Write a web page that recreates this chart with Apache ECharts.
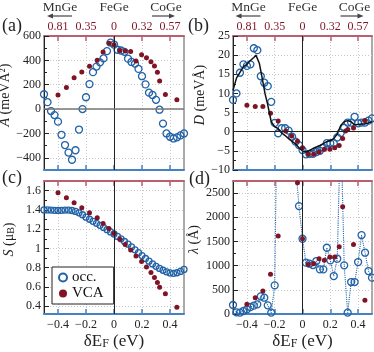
<!DOCTYPE html>
<html>
<head>
<meta charset="utf-8">
<title>FeGe</title>
<script src="https://cdn.jsdelivr.net/npm/echarts@6.0.0/dist/echarts.min.js"></script>
<style>
html, body { margin: 0; padding: 0; background: #fff; }
#chart { width: 374px; height: 352px; }
</style>
</head>
<body>
<div id="chart"></div>
<script>
// occ. points (open circles), energy shift grid
const occX = [-0.5, -0.475, -0.45, -0.425, -0.4, -0.375, -0.35, -0.325, -0.3, -0.275, -0.25, -0.225, -0.2, -0.175,
  -0.15, -0.125, -0.1, -0.075, -0.05, -0.025, 0, 0.025, 0.05, 0.075, 0.1, 0.125, 0.15, 0.175, 0.2, 0.225, 0.25,
  0.275, 0.3, 0.325, 0.35, 0.375, 0.4, 0.425, 0.45, 0.475, 0.5]
const occA = [122, 57, -16, -49, -103, -211, -295, -357, -416, -338, -168, 0, 97, 205, 303, 349, 384, 416, 476, 546,
  530, 487, 481, 470, 414, 387, 373, 330, 270, 203, 135, 116, 76, -5, -119, -200, -227, -241, -232, -216, -200]
const occD = [8.3, 10.0, 15.4, 17.6, 17.2, 17.6, 21.8, 21.3, 14.5, 12.8, 11.9, 7.8, 2.3, -0.4, 0.9, 0.9, 0.3, -1.3,
  -2.6, -3.5, -4.8, -5.9, -5.8, -5.8, -5.3, -5.0, -4.2, -3.0, -3.0, -3.0, -1.5, -0.3, 1.0, 2.4, 2.4, 3.9, 2.2, 2.4,
  2.4, 2.9, 3.5]
const occS = [1.40, 1.40, 1.398, 1.396, 1.395, 1.396, 1.398, 1.398, 1.394, 1.384, 1.37, 1.35, 1.325, 1.303, 1.282,
  1.261, 1.24, 1.218, 1.195, 1.172, 1.15, 1.125, 1.1, 1.072, 1.045, 1.016, 0.986, 0.956, 0.926, 0.896, 0.868, 0.84,
  0.815, 0.793, 0.774, 0.758, 0.746, 0.742, 0.748, 0.762, 0.782]
const occL = [186, 34, 28, 62, 96, 145, 172, 200, 365, 337, 179, 28, 592, 6000, 9000, 11000, 9000, 6000, 3050, 2231,
  1556, 1061, 1040, 1012, 1095, 923, 923, 1370, 1109, 785, 1143, 4000, 1006, 28, 661, 661, 1074, 1632, 1267, 888, 751]

// VCA points (filled dots)
const vcaX = [-0.4, -0.34, -0.285, -0.23, -0.175, -0.12, -0.078, -0.036, 0, 0.042, 0.08, 0.119, 0.157, 0.197, 0.232,
  0.264, 0.289, 0.31, 0.326, 0.367, 0.449]
const vcaA = [116, 178, 257, 305, 351, 400, 468, 541, 529, 481, 476, 473, 395, 446, 422, 389, 354, 303, 230, 119, 76]
const vcaD = [6.9, 6.6, 6.6, 4.8, 2.8, 0.2, -1.1, -2.5, -4.2, -5.9, -5.9, -5.3, -4.6, -4.6, -4.2, -3.6, -1.8, 0.2,
  0.6, 1.0, 2.9]
const vcaS = [1.579, 1.527, 1.475, 1.423, 1.37, 1.318, 1.259, 1.207, 1.155, 1.096, 1.04, 0.984, 0.922, 0.866, 0.807,
  0.751, 0.699, 0.647, 0.598, 0.529, 0.39]
const vcaL = [200, 337, 475, 820, 1612, 4500, 3500, 2713, 1556, 1026, 1040, 1143, 1109, 1178, 1178, 1391, 2218, 3800,
  3000, 1439, 282]

// black curve in (b)
const curveX = [-0.5, -0.475, -0.45, -0.425, -0.4, -0.375, -0.35, -0.335, -0.31, -0.29, -0.27, -0.25, -0.225, -0.2,
  -0.175, -0.15, -0.125, -0.1, -0.075, -0.05, -0.025, 0, 0.025, 0.05, 0.075, 0.1, 0.125, 0.15, 0.175, 0.2, 0.225,
  0.25, 0.275, 0.3, 0.325, 0.35, 0.375, 0.4, 0.425, 0.45, 0.475, 0.5]
const curveD = [10.8, 14, 15.5, 17, 17.6, 18.6, 19.4, 20.0, 17.8, 14, 10, 7, 2.6, 1.3, 0.8, -0.3, -1.0, -1.8, -2.5,
  -3.2, -4.2, -5.0, -5.3, -4.9, -4.4, -4.0, -3.6, -3.1, -2.6, -2.3, -1.8, -0.6, 1.6, 2.6, 2.9, 2.6, 1.8, 1.9, 2.0,
  2.1, 2.3, 2.6]

// ticks and labels
const xTicks = [-0.4, -0.2, 0, 0.2, 0.4]
const topLabels = ['0.81', '0.35', '0', '0.32', '0.57']
const compNames = ['MnGe', 'FeGe', 'CoGe']
const panelNames = ['(a)', '(b)', '(c)', '(d)']
const aTicks = [-400, -200, 0, 200, 400, 600]
const aMinor = [-300, -100, 100, 300, 500]
const dTicks = [-10, -5, 0, 5, 10, 15, 20, 25]
const dMinor = [-7.5, -2.5, 2.5, 7.5, 12.5, 17.5, 22.5]
const sTicks = [0.4, 0.6, 0.8, 1, 1.2, 1.4, 1.6]
const sMinor = [0.5, 0.7, 0.9, 1.1, 1.3, 1.5]
const lTicks = [0, 500, 1000, 1500, 2000, 2500]
const lMinor = [250, 750, 1250, 1750, 2250]

const fontFamily = '"Liberation Serif", "DejaVu Serif", serif'
const blue = '#2263a8'
const red = '#7f1426'
const topRed = '#b8606f'
const axisBlue = '#4682c0'
const ink = '#222'
const gridLine = { color: '#c9c9c9', type: [1, 2], width: 1 }

const minus = v => String(v).replace('-', '\u2212')
const pair = (xs, ys) => xs.map((x, i) => [x, ys[i]])

const rich = {
  i: { fontStyle: 'italic', fontFamily, fontSize: 14, color: ink },
  sub: { fontFamily, fontSize: 10, color: ink, verticalAlign: 'bottom', lineHeight: 9 },
  bsub: { fontFamily, fontSize: 12, color: ink, verticalAlign: 'bottom', lineHeight: 10 }
}

let myChart = echarts.init(document.getElementById('chart'))

const xBottom = (g, labels) => ({
  type: 'value', gridIndex: g, position: 'bottom', min: -0.5, max: 0.5, splitNumber: 5,
  axisLine: { show: true, onZero: false, lineStyle: { color: axisBlue, width: 2 } },
  axisTick: { show: true, inside: true, length: 5, customValues: xTicks, lineStyle: { color: axisBlue, width: 1.5 } },
  axisLabel: { show: labels, customValues: xTicks, formatter: minus, margin: 5, color: ink, fontFamily, fontSize: 12 },
  splitLine: { show: true, lineStyle: gridLine },
  name: labels ? 'δE{bsub|F} (eV)' : '',
  nameLocation: 'middle', nameGap: 19,
  nameTextStyle: { fontFamily, fontSize: 17, color: ink, rich }
})

const xTop = (g, labels) => ({
  type: 'value', gridIndex: g, position: 'top', min: -0.5, max: 0.5, splitNumber: 5,
  axisLine: { show: true, onZero: false, lineStyle: { color: topRed, width: 2 } },
  axisTick: { show: true, inside: true, length: 5, customValues: xTicks, lineStyle: { color: topRed, width: 1.5 } },
  axisLabel: {
    show: labels, customValues: xTicks, margin: 3, color: red, fontFamily, fontSize: 12,
    formatter: v => topLabels[xTicks.findIndex(t => Math.abs(t - v) < 1e-6)]
  },
  splitLine: { show: false }
})

const yMain = (g, min, max, split, ticks, name, nameGap) => ({
  type: 'value', gridIndex: g, position: 'left', min, max, splitNumber: split,
  axisLine: { show: true, onZero: false, lineStyle: { color: ink, width: 1 } },
  axisTick: { show: true, inside: true, length: 5, customValues: ticks, lineStyle: { color: ink } },
  axisLabel: { customValues: ticks, formatter: minus, margin: 3, color: ink, fontFamily, fontSize: 12 },
  splitLine: { show: true, lineStyle: gridLine },
  name, nameLocation: 'middle', nameGap, nameRotate: 90,
  nameTextStyle: { fontFamily, fontSize: 14, color: ink, rich, padding: [0, 0, 0, 16] }
})

const yMinor = (g, min, max, ticks) => ({
  type: 'value', gridIndex: g, position: 'left', min, max,
  axisLine: { show: false, onZero: false },
  axisTick: { show: true, inside: true, length: 3, customValues: ticks, lineStyle: { color: ink } },
  axisLabel: { show: false },
  splitLine: { show: false }
})

const zeroLines = (horizontal, hColor, hWidth) => {
  const data = [{ xAxis: 0, lineStyle: { color: ink, width: 1, type: 'solid' } }]
  if (horizontal) data.push({ yAxis: 0, lineStyle: { color: hColor, width: hWidth, type: 'solid' } })
  return { silent: true, symbol: ['none', 'none'], label: { show: false }, animation: false, data }
}

const occStyle = { color: 'rgba(255,255,255,0)', borderColor: blue, borderWidth: 1.3, opacity: 1 }
const vcaStyle = { color: red, opacity: 1 }

const grids = [
  { left: 44, top: 36, width: 140, height: 134 },
  { left: 233, top: 36, width: 139, height: 134 },
  { left: 44, top: 181, width: 140, height: 133 },
  { left: 233, top: 181, width: 139, height: 133 }
].map(g => Object.assign(g, { show: true, borderColor: '#555', borderWidth: 1, outerBoundsMode: 'none' }))

// header: compositions and arrows above (a) and (b)
const graphic = []
;[114, 302.5].forEach(cx => {
  const offs = [-54, 0, 52]
  compNames.forEach((t, k) => {
    graphic.push({ type: 'text', x: cx + offs[k], y: 7,
      style: { text: t, align: 'center', verticalAlign: 'middle', font: '13.5px ' + fontFamily, fill: '#333' } })
  })
  graphic.push({ type: 'line', shape: { x1: cx - 62, y1: 16, x2: cx - 42, y2: 16 }, style: { stroke: '#444', lineWidth: 1.2 } })
  graphic.push({ type: 'polygon', shape: { points: [[cx - 67, 16], [cx - 61, 13.5], [cx - 61, 18.5]] }, style: { fill: '#444' } })
  graphic.push({ type: 'line', shape: { x1: cx + 38, y1: 16, x2: cx + 56, y2: 16 }, style: { stroke: '#444', lineWidth: 1.2 } })
  graphic.push({ type: 'polygon', shape: { points: [[cx + 61, 16], [cx + 55, 13.5], [cx + 55, 18.5]] }, style: { fill: '#444' } })
})
const panelPos = [[2, 26], [188, 26], [2, 178], [189, 179]]
panelNames.forEach((t, k) => {
  graphic.push({ type: 'text', x: panelPos[k][0], y: panelPos[k][1],
    style: { text: t, align: 'left', verticalAlign: 'middle', font: '18px ' + fontFamily, fill: '#222' } })
})

const option = {
  animation: false,
  backgroundColor: '#fff',
  grid: grids,
  xAxis: [xBottom(0, false), xTop(0, true), xBottom(1, false), xTop(1, true),
    xBottom(2, true), xTop(2, false), xBottom(3, true), xTop(3, false)],
  yAxis: [
    yMain(0, -500, 600, 5, aTicks, '{i|A} (meVÅ²)', 28), yMinor(0, -500, 600, aMinor),
    yMain(1, -10, 25, 7, dTicks, '{i|D} (meVÅ)', 23), yMinor(1, -10, 25, dMinor),
    yMain(2, 0.32, 1.7, 7, sTicks, '{i|S} (μ{sub|B})', 28), yMinor(2, 0.32, 1.7, sMinor),
    yMain(3, 0, 2750, 5, lTicks, '{i|λ} (Å)', 32), yMinor(3, 0, 2750, lMinor)
  ],
  legend: {
    data: ['occ.', 'VCA'], orient: 'vertical', left: 52, top: 267, selectedMode: false,
    backgroundColor: '#fff', borderColor: '#222', borderWidth: 1, borderRadius: 0,
    padding: [3, 10, 3, 6], itemGap: 1, itemWidth: 8, itemHeight: 8,
    textStyle: { fontFamily, fontSize: 15, color: '#111' }
  },
  graphic,
  series: [
    { name: 'occ.', type: 'scatter', xAxisIndex: 0, yAxisIndex: 0, data: pair(occX, occA), clip: true,
      symbol: 'circle', symbolSize: 7, itemStyle: occStyle, markLine: zeroLines(true, '#777', 1.5) },
    { name: 'VCA', type: 'scatter', xAxisIndex: 0, yAxisIndex: 0, data: pair(vcaX, vcaA), clip: true,
      symbol: 'circle', symbolSize: 5, itemStyle: vcaStyle },

    { name: 'occ.', type: 'scatter', xAxisIndex: 2, yAxisIndex: 2, data: pair(occX, occD), clip: true,
      symbol: 'circle', symbolSize: 7, itemStyle: occStyle, markLine: zeroLines(true, ink, 1) },
    { name: 'VCA', type: 'scatter', xAxisIndex: 2, yAxisIndex: 2, data: pair(vcaX, vcaD), clip: true,
      symbol: 'circle', symbolSize: 5, itemStyle: vcaStyle },
    { name: 'curve', type: 'line', xAxisIndex: 2, yAxisIndex: 2, data: pair(curveX, curveD), clip: true,
      symbol: 'none', z: 4, lineStyle: { color: '#111', width: 1.5 } },

    { name: 'occ.', type: 'scatter', xAxisIndex: 4, yAxisIndex: 4, data: pair(occX, occS), clip: true,
      symbol: 'circle', symbolSize: 6, itemStyle: occStyle, markLine: zeroLines(false) },
    { name: 'VCA', type: 'scatter', xAxisIndex: 4, yAxisIndex: 4, data: pair(vcaX, vcaS), clip: true,
      symbol: 'circle', symbolSize: 5, itemStyle: vcaStyle },

    { name: 'occ.', type: 'line', xAxisIndex: 6, yAxisIndex: 6, data: pair(occX, occL), clip: true,
      symbol: 'circle', symbolSize: 7, showSymbol: true, itemStyle: occStyle,
      lineStyle: { color: blue, width: 1.1, type: 'dotted' }, markLine: zeroLines(false) },
    { name: 'VCA', type: 'scatter', xAxisIndex: 6, yAxisIndex: 6, data: pair(vcaX, vcaL), clip: true,
      symbol: 'circle', symbolSize: 5, z: 5, itemStyle: vcaStyle }
  ]
}

myChart.setOption(option)
</script>
</body>
</html>
